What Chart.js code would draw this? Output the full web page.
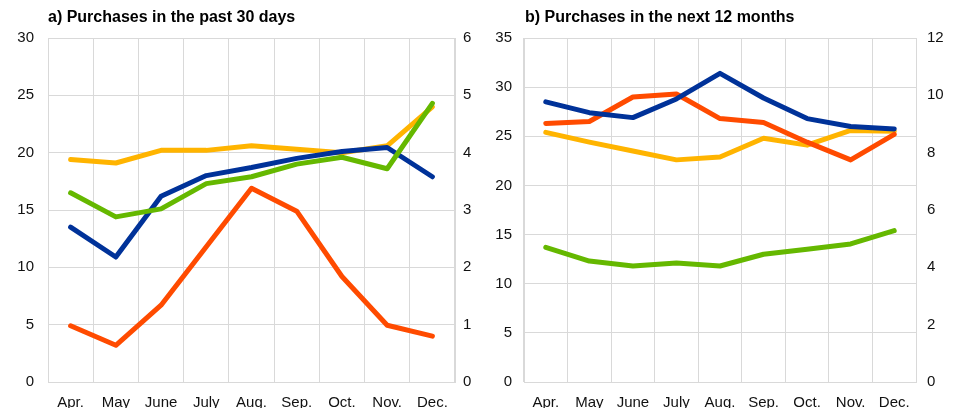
<!DOCTYPE html>
<html>
<head>
<meta charset="utf-8">
<script src="https://cdn.jsdelivr.net/npm/chart.js@4.4.1/dist/chart.umd.min.js"></script>
<style>
    body { margin: 0; background: #fff; font-family: "Liberation Sans", Arial, sans-serif; }
    .panel { position: absolute; top: 0; width: 477px; height: 408px; }
    .panel canvas { position: absolute; left: 0; top: 0; }
    .title { position: absolute; top: 8px; font-weight: bold; font-size: 16px; color: #000; white-space: nowrap; }
</style>
</head>
<body>
<div class="panel" style="left:0">
    <canvas id="pastChart" width="477" height="408"></canvas>
    <div class="title" style="left:48px">a) Purchases in the past 30 days</div>
</div>
<div class="panel" style="left:477px">
    <canvas id="nextChart" width="477" height="408"></canvas>
    <div class="title" style="left:48px">b) Purchases in the next 12 months</div>
</div>
<script>
const months = ["Apr.", "May", "June", "July", "Aug.", "Sep.", "Oct.", "Nov.", "Dec."];

// a) past 30 days
const pastYellow = [19.4, 19.1, 20.2, 20.2, 20.6, 20.3, 20.0, 20.6, 24.0];
const pastOrange = [4.9, 3.2, 6.7, 11.8, 16.9, 14.9, 9.2, 4.95, 4.0];
const pastBlue   = [13.5, 10.9, 16.2, 18.0, 18.7, 19.5, 20.1, 20.45, 17.9];
const pastGreen  = [16.5, 14.4, 15.1, 17.3, 17.9, 19.0, 19.6, 18.6, 24.3];

// b) next 12 months
const nextYellow = [25.4, 24.4, 23.5, 22.6, 22.9, 24.8, 24.1, 25.6, 25.5];
const nextOrange = [26.3, 26.5, 29.0, 29.3, 26.8, 26.4, 24.4, 22.6, 25.2];
const nextBlue   = [28.5, 27.4, 26.9, 28.8, 31.4, 28.9, 26.8, 26.0, 25.75];
const nextGreen  = [13.7, 12.3, 11.8, 12.1, 11.8, 13.0, 13.5, 14.05, 15.4];

const COLORS = { yellow: "#FFB400", orange: "#FF4B00", blue: "#003299", green: "#65B800" };
const GRID = "#d9d9d9";
const TICK_FONT = { family: "'Liberation Sans', Arial, sans-serif", size: 15 };

Chart.defaults.animation = false;

/* ---------------- Helpers ---------------- */
function line(data, color) {
    return {
        data,
        borderColor: color,
        borderWidth: 5,
        pointRadius: 0,
        tension: 0,
        borderJoinStyle: "round",
        borderCapStyle: "round",
        fill: false
    };
}

function buildChart(id, series, left, right, leftWidth, rightWidth) {
    new Chart(document.getElementById(id), {
        type: "line",
        data: {
            labels: months,
            // first dataset is drawn on top
            datasets: [
                line(series.green, COLORS.green),
                line(series.blue, COLORS.blue),
                line(series.orange, COLORS.orange),
                line(series.yellow, COLORS.yellow)
            ]
        },
        options: {
            responsive: false,
            layout: { padding: { top: 38, left: 0, right: 0, bottom: 0 } },
            plugins: { legend: { display: false }, tooltip: { enabled: false } },
            scales: {
                x: {
                    offset: true,
                    grid: { offset: true, color: GRID, drawTicks: false },
                    border: { color: GRID },
                    ticks: { color: "#111", font: TICK_FONT, padding: 12, maxRotation: 0, autoSkip: false },
                    afterFit: s => { s.height = 26; }
                },
                y: {
                    position: "left",
                    min: 0, max: left.max,
                    grid: { color: GRID, drawTicks: false },
                    border: { color: GRID },
                    ticks: { stepSize: left.step, color: "#111", font: TICK_FONT, padding: left.pad },
                    afterFit: s => { s.width = leftWidth; }
                },
                y2: {
                    position: "right",
                    display: true,
                    min: 0, max: right.max,
                    grid: { drawOnChartArea: false, drawTicks: false },
                    border: { color: GRID },
                    ticks: { stepSize: right.step, color: "#111", font: TICK_FONT, padding: right.pad },
                    afterFit: s => { s.width = rightWidth; }
                }
            }
        }
    });
}

buildChart("pastChart",
    { yellow: pastYellow, orange: pastOrange, blue: pastBlue, green: pastGreen },
    { max: 30, step: 5, pad: 14 }, { max: 6, step: 1, pad: 8 }, 48, 22);

buildChart("nextChart",
    { yellow: nextYellow, orange: nextOrange, blue: nextBlue, green: nextGreen },
    { max: 35, step: 5, pad: 12 }, { max: 12, step: 2, pad: 11 }, 47, 38);
</script>
</body>
</html>
